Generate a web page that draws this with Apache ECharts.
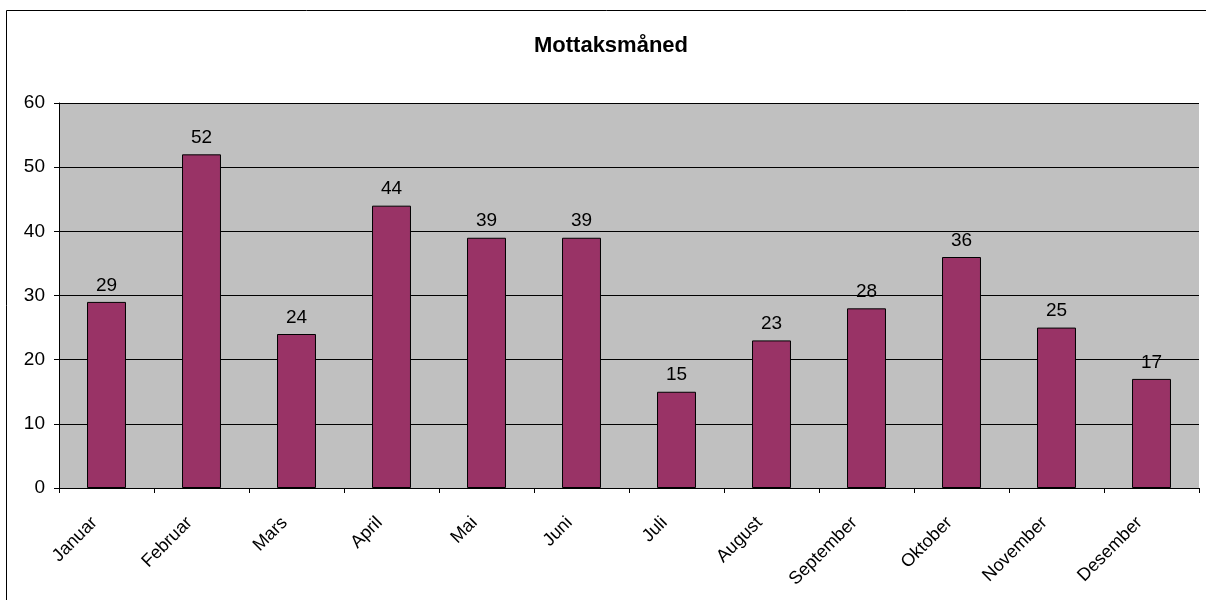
<!DOCTYPE html>
<html>
<head>
<meta charset="utf-8">
<script src="https://cdn.jsdelivr.net/npm/echarts@6/dist/echarts.min.js"></script>
<style>
  html, body { margin: 0; padding: 0; background: #fff; }
  #chart { width: 1206px; height: 600px; }
</style>
</head>
<body>
<div id="chart"></div>
<script>
const months = ['Januar', 'Februar', 'Mars', 'April', 'Mai', 'Juni', 'Juli', 'August', 'September', 'Oktober', 'November', 'Desember']
const counts = [29, 52, 24, 44, 39, 39, 15, 23, 28, 36, 25, 17]
const yTicks = [0, 10, 20, 30, 40, 50, 60]

const font = 'Liberation Sans, Arial, sans-serif'
const chart = echarts.init(document.getElementById('chart'))

chart.setOption({
  animation: false,
  title: {
    text: 'Mottaksmåned',
    left: 606,
    top: 30,
    textAlign: 'center',
    textStyle: { fontFamily: font, fontSize: 22, fontWeight: 'bold', color: '#000' },
  },
  graphic: [
    {
      type: 'rect',
      shape: { x: 6.5, y: 10.5, width: 1210, height: 600 },
      style: { fill: 'none', stroke: '#000', lineWidth: 1 },
      silent: true,
    },
  ],
  grid: {
    left: 59,
    right: 7,
    top: 103,
    bottom: 112,
    backgroundColor: '#c0c0c0',
    show: true,
    borderWidth: 0,
  },
  xAxis: {
    type: 'category',
    data: months,
    boundaryGap: true,
    axisLine: { show: true, lineStyle: { color: '#000', width: 1 } },
    axisTick: { show: true, length: 5, lineStyle: { color: '#000' } },
    axisLabel: {
      rotate: 45,
      fontFamily: font,
      fontSize: 18,
      color: '#000',
      margin: 20,
      padding: [0, 17, 0, 0],
    },
  },
  yAxis: {
    type: 'value',
    min: yTicks[0],
    max: yTicks[yTicks.length - 1],
    interval: 10,
    axisLine: { show: true, lineStyle: { color: '#000', width: 1 } },
    axisTick: { show: true, length: 5, lineStyle: { color: '#000' } },
    axisLabel: { fontFamily: font, fontSize: 19, color: '#000', margin: 14 },
    splitLine: { show: true, lineStyle: { color: '#000', width: 1 } },
  },
  series: [
    {
      type: 'bar',
      data: counts,
      barWidth: '41%',
      itemStyle: { color: '#993366', borderColor: '#000', borderWidth: 1 },
      label: {
        show: true,
        position: 'top',
        distance: 7,
        fontFamily: font,
        fontSize: 19,
        color: '#000',
      },
    },
  ],
})
</script>
</body>
</html>
